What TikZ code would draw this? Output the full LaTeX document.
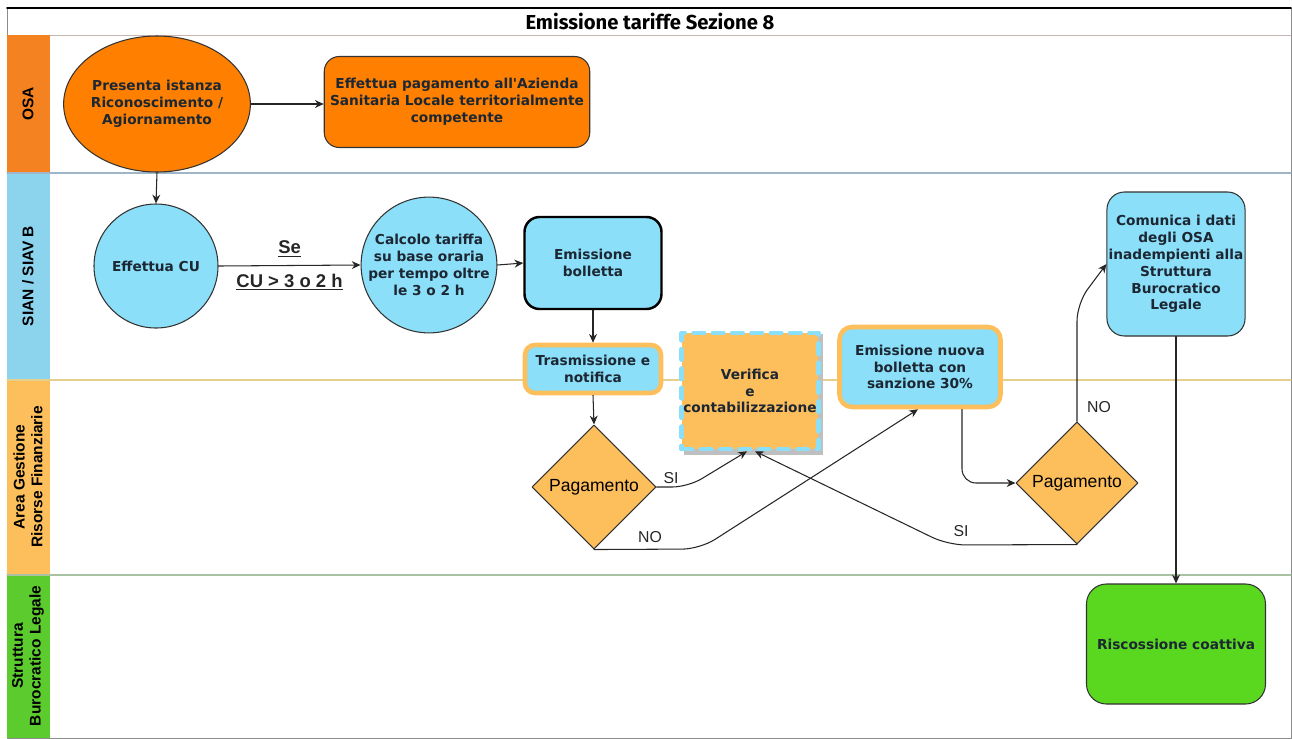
\documentclass[tikz,border=0pt]{standalone}
\usepackage{fontspec}
\setmainfont{DejaVu Sans}
\newfontfamily\arialfont{Liberation Sans}
\newfontfamily\titlefont{Fira Sans}
\usepackage{tikz}
\usetikzlibrary{arrows.meta}
\usetikzlibrary{shapes.geometric}
\usetikzlibrary{positioning}
\definecolor{osa-orange}{HTML}{FF8000}
\definecolor{osa-label}{HTML}{F58220}
\definecolor{sian-blue}{HTML}{8BDFF8}
\definecolor{sian-label}{HTML}{8CD3EE}
\definecolor{agrf-orange}{HTML}{FDBE5C}
\definecolor{sbl-green}{HTML}{5AD81F}
\definecolor{sbl-label}{HTML}{5CCB2E}
\definecolor{box-text}{HTML}{1C2733}
\definecolor{sep-blue}{HTML}{9FB5C8}
\definecolor{sep-yellow}{HTML}{E6CF8C}
\definecolor{sep-green}{HTML}{A9C2A2}

\begin{document}
\begin{tikzpicture}[x=0.2mm, y=-0.2mm, line cap=round, line join=round,
    boxtext/.style={align=center, text=box-text, font=\bfseries\fontsize{7.8}{9.6}\selectfont},
    flow/.style={-{Stealth[length=5pt,width=4.5pt]}, line width=0.6pt, black!85},
    lanelabel/.style={rotate=90, align=center, font=\arialfont\bfseries\fontsize{8.8}{10}\selectfont},
    edgelabel/.style={font=\arialfont\fontsize{9}{10}\selectfont, text=black!85}]
    \useasboundingbox (0,0) rectangle (1292,738);

    % frame and title
    \draw[black!45, line width=0.5pt] (7,8) rectangle (1291,738);
    \draw[black, line width=1pt] (7,8) -- (1291,8);
    \draw[red!30!black!30, line width=0.5pt] (7,35) -- (1291,35);
    \node[font=\titlefont\bfseries\fontsize{11.5}{13}\selectfont] (title) at (650,21) {Emissione tariffe Sezione 8};

    % lanes
    \fill[osa-label] (7,35) rectangle (50,173);
    \fill[sian-label] (7,173) rectangle (50,380);
    \fill[agrf-orange] (7,380) rectangle (50,575);
    \fill[sbl-label] (7,575) rectangle (50,738);
    \draw[sep-blue, line width=0.6pt] (7,173) -- (1291,173);
    \draw[sep-yellow, line width=0.6pt] (7,380) -- (1291,380);
    \draw[sep-green, line width=0.6pt] (7,575) -- (1291,575);
    \node[lanelabel] (laneOsa) at (28,104) {OSA};
    \node[lanelabel] (laneSian) at (28,276) {SIAN / SIAV B};
    \node[lanelabel] (laneAgrf) at (28,477) {Area Gestione\\Risorse Finanziarie};
    \node[lanelabel] (laneSbl) at (28,656) {Struttura\\Burocratico Legale};

    % OSA
    \node[boxtext, ellipse, draw=black!80, line width=0.6pt, fill=osa-orange, minimum width=36mm, minimum height=27.2mm, inner sep=0pt] (istanza) at (157,104) {Presenta istanza\\Riconoscimento /\\Agiornamento};
    \node[boxtext, draw=black!80, line width=0.6pt, fill=osa-orange, rounded corners=3mm, minimum width=52.4mm, minimum height=18.2mm] (pagamentoAsl) at (457,102) {Effettua pagamento all\textquotesingle Azienda\\Sanitaria Locale territorialmente\\competente};

    % SIAN / SIAV B
    \node[boxtext, circle, draw=black!80, line width=0.6pt, fill=sian-blue, minimum size=24.8mm, inner sep=0pt] (cu) at (156,266) {Effettua CU};
    \node[boxtext, circle, draw=black!80, line width=0.6pt, fill=sian-blue, minimum size=24.8mm, inner sep=0pt] (calcolo) at (429,265) {Calcolo tariffa\\su base oraria\\per tempo oltre\\le 3 o 2 h};
    \node[boxtext, draw=black, line width=1.4pt, fill=sian-blue, rounded corners=3mm, minimum width=27.4mm, minimum height=18.4mm] (bolletta) at (593,263) {Emissione\\bolletta};
    \node[boxtext, draw=agrf-orange, line width=2.6pt, fill=sian-blue, rounded corners=2mm, minimum width=27.2mm, minimum height=9.6mm, inner sep=1pt] (trasmissione) at (593,369) {Trasmissione e\\notifica};
    \fill[black!25] (684,334) rectangle (823,455);
    \node[boxtext, draw=sian-blue, line width=2.6pt, dash pattern=on 6pt off 5pt, fill=agrf-orange, minimum width=26.8mm, minimum height=23.2mm, inner sep=1pt] (verifica) at (750,391) {Verifica\\e\\contabilizzazione};
    \node[boxtext, draw=agrf-orange, line width=2.6pt, fill=sian-blue, rounded corners=2.5mm, minimum width=32.2mm, minimum height=16mm] (nuovaBolletta) at (920,367) {Emissione nuova\\bolletta con\\sanzione 30\%};
    \node[boxtext, draw=black!80, line width=0.6pt, fill=sian-blue, rounded corners=3.5mm, minimum width=27.6mm, minimum height=28.8mm, inner sep=1pt] (comunica) at (1176,264) {Comunica i dati\\degli OSA\\inadempienti alla\\Struttura\\Burocratico\\Legale};

    % Area Gestione Risorse Finanziarie
    \node[diamond, draw=black!80, line width=0.6pt, fill=agrf-orange, minimum size=24.8mm, inner sep=0pt, font=\arialfont\fontsize{10}{11}\selectfont] (pagamento) at (594,487) {Pagamento};
    \node[diamond, draw=black!80, line width=0.6pt, fill=agrf-orange, minimum size=24.4mm, inner sep=0pt, font=\arialfont\fontsize{10}{11}\selectfont] (pagamentoBis) at (1077,483) {Pagamento};

    % Struttura Burocratico Legale
    \node[boxtext, draw=black!80, line width=0.6pt, fill=sbl-green, rounded corners=4mm, minimum width=35.8mm, minimum height=24mm] (riscossione) at (1176,644) {Riscossione coattiva};

    % connectors
    \draw[flow] (istanza.south) -- (cu.north);
    \draw[flow] (istanza.east) -- (istanza.east -| pagamentoAsl.west);
    \draw[flow] (cu.east) -- (calcolo.west)
        node[midway, above=1pt, font=\arialfont\bfseries\fontsize{10.5}{12}\selectfont] {\underline{Se}}
        node[midway, below=1pt, font=\arialfont\bfseries\fontsize{10.5}{12}\selectfont] {\underline{CU > 3 o 2 h}};
    \draw[flow] (calcolo.east) -- (bolletta.west);
    \draw[flow] (bolletta.south) -- (trasmissione.north);
    \draw[flow] (trasmissione.south) -- (pagamento.north);
    \draw[flow, rounded corners=9pt] (pagamento.east) -- (688,487) -- ([xshift=-0.6mm]verifica.south);
    \draw[flow, rounded corners=10pt] (pagamento.south) -- (700,549) -- ([xshift=-0.4mm]nuovaBolletta.south);
    \draw[flow, rounded corners=10pt] (pagamentoBis.south) -- (948,545) -- ([xshift=1mm]verifica.south);
    \draw[flow, rounded corners=8pt] ([xshift=8.4mm]nuovaBolletta.south) |- (pagamentoBis.west);
    \draw[flow, rounded corners=10pt] (pagamentoBis.north) -- ++(0,-118) -- (comunica.west);
    \draw[flow] (comunica.south) -- (riscossione.north);

    % connector labels
    \node[edgelabel] (siUno) at (671,478) {SI};
    \node[edgelabel] (noUno) at (650,537) {NO};
    \node[edgelabel] (siDue) at (961,531) {SI};
    \node[edgelabel] (noDue) at (1099,407) {NO};

\end{tikzpicture}
\end{document}
